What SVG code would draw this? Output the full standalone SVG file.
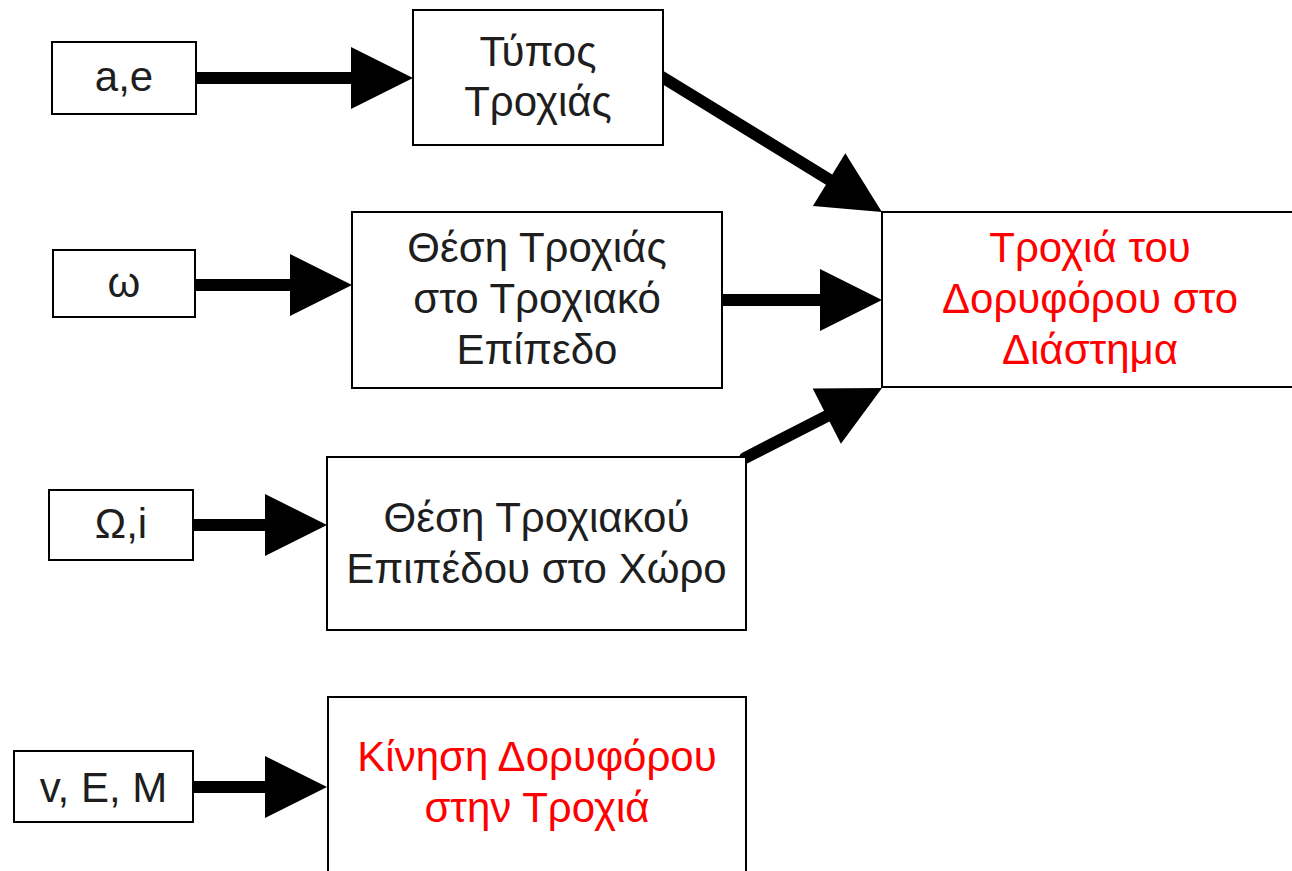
<svg xmlns="http://www.w3.org/2000/svg" width="1292" height="871" viewBox="0 0 1292 871">
  <defs>
    <style>
      .box { fill: #ffffff; stroke: #000000; stroke-width: 2; }
      .lbl { font-family: "Liberation Sans", Arial, sans-serif; font-size: 42px; fill: #1e1e1e; text-anchor: middle; }
      .red { fill: #ff0000; }
      .edge { stroke: #000000; stroke-width: 12; stroke-linecap: round; fill: none; marker-end: url(#head); }
    </style>
    <!-- arrowhead: base sits at the line end, tip 62px further on -->
    <marker id="head" markerUnits="userSpaceOnUse" markerWidth="62" markerHeight="62" refX="0" refY="31" orient="auto" overflow="visible">
      <path d="M0,0 L62,31 L0,62 Z" fill="#000000"/>
    </marker>
  </defs>
  <rect width="1292" height="871" fill="#ffffff"/>

  <g id="connectors">
    <line class="edge" x1="193" y1="78" x2="351" y2="78"/>
    <line class="edge" x1="193" y1="285" x2="290" y2="285"/>
    <line class="edge" x1="190" y1="525" x2="265" y2="525"/>
    <line class="edge" x1="190" y1="787" x2="265" y2="787"/>
    <line class="edge" x1="721" y1="300" x2="820" y2="300"/>
    <line class="edge" x1="662" y1="77" x2="829.1" y2="179.6"/>
    <line class="edge" x1="745" y1="458" x2="826.8" y2="416.2"/>
  </g>

  <g id="n-ae">
    <rect class="box" x="52" y="42" width="144" height="72"/>
    <text class="lbl" x="124" y="91">a,e</text>
  </g>
  <g id="n-omega">
    <rect class="box" x="53" y="250" width="142" height="67"/>
    <text class="lbl" x="124" y="297">ω</text>
  </g>
  <g id="n-Omega-i">
    <rect class="box" x="49" y="490" width="144" height="70"/>
    <text class="lbl" x="121" y="538">Ω,i</text>
  </g>
  <g id="n-vEM">
    <rect class="box" x="14" y="751" width="179" height="71"/>
    <text class="lbl" x="103.5" y="802">v, E, M</text>
  </g>

  <g id="n-orbit-type">
    <rect class="box" x="413" y="10" width="250" height="135"/>
    <text class="lbl" x="538" y="66">Τύπος</text>
    <text class="lbl" x="538" y="116">Τροχιάς</text>
  </g>
  <g id="n-orbit-in-plane">
    <rect class="box" x="352" y="212" width="370" height="176"/>
    <text class="lbl" x="537" y="262">Θέση Τροχιάς</text>
    <text class="lbl" x="537" y="313">στο Τροχιακό</text>
    <text class="lbl" x="537" y="364">Επίπεδο</text>
  </g>
  <g id="n-plane-in-space">
    <rect class="box" x="327" y="457" width="419" height="173"/>
    <text class="lbl" x="536.5" y="532">Θέση Τροχιακού</text>
    <text class="lbl" x="536.5" y="583">Επιπέδου στο Χώρο</text>
  </g>
  <g id="n-orbit-in-space">
    <rect class="box" x="882" y="212" width="420" height="175"/>
    <text class="lbl red" x="1090" y="262">Τροχιά του</text>
    <text class="lbl red" x="1090" y="313">Δορυφόρου στο</text>
    <text class="lbl red" x="1090" y="364">Διάστημα</text>
  </g>
  <g id="n-motion">
    <rect class="box" x="328" y="697" width="418" height="190"/>
    <text class="lbl red" x="537" y="771">Κίνηση Δορυφόρου</text>
    <text class="lbl red" x="537" y="822">στην Τροχιά</text>
  </g>
</svg>
